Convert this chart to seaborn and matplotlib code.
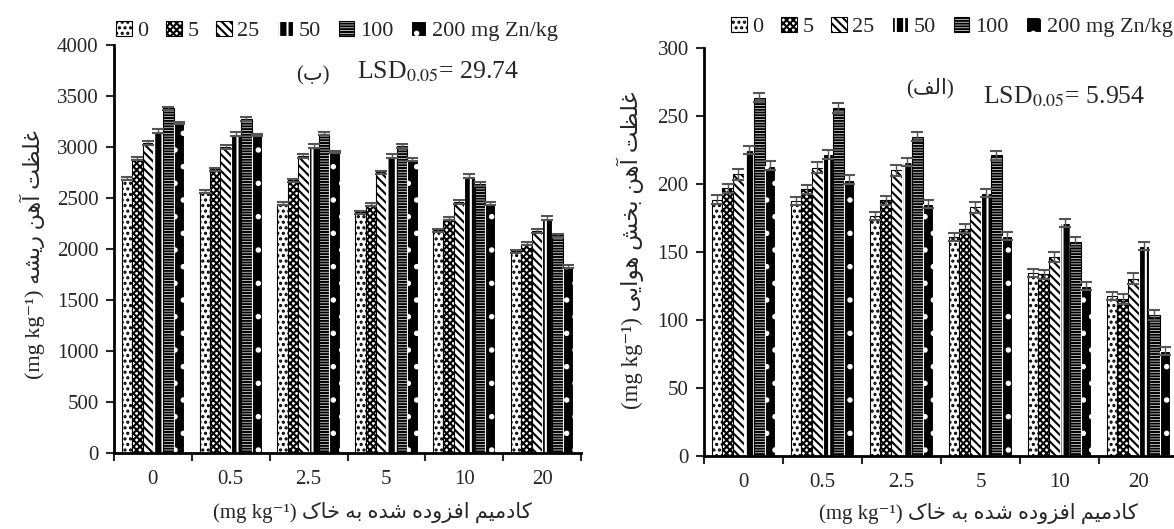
import matplotlib
matplotlib.use("Agg")
import numpy as np
import pandas as pd
import seaborn as sns
import matplotlib.pyplot as plt
import matplotlib.patches as mpatches

# ---------------- data ----------------
cd_levels = ["0", "0.5", "2.5", "5", "10", "20"]
zn_levels = ["0", "5", "25", "50", "100", "200"]
zn_legend = ["0", "5", "25", "50", "100", "200 mg Zn/kg"]

root_zn0 = [2690, 2560, 2445, 2358, 2183, 1980]
root_zn5 = [2885, 2782, 2675, 2432, 2298, 2052]
root_zn25 = [3040, 3000, 2910, 2750, 2462, 2176]
root_zn50 = [3158, 3125, 3010, 2910, 2720, 2308]
root_zn100 = [3378, 3273, 3132, 3010, 2634, 2133]
root_zn200 = [3237, 3115, 2952, 2876, 2445, 1828]
root_err = [15, 15, 18, 20, 18, 12]

shoot_zn0 = [188.6, 187.3, 176.3, 160.8, 134.5, 117.6]
shoot_zn5 = [196.7, 196.0, 188.0, 167.2, 133.5, 115.6]
shoot_zn25 = [207.0, 212.0, 210.0, 183.0, 146.3, 130.3]
shoot_zn50 = [225.0, 221.7, 216.3, 193.5, 171.4, 154.7]
shoot_zn100 = [263.5, 255.7, 234.8, 221.0, 157.4, 103.8]
shoot_zn200 = [213.6, 203.3, 185.6, 161.5, 124.7, 77.5]
shoot_err = [3.0, 3.5, 4.0, 3.0, 3.5, 3.0]

root_series = [root_zn0, root_zn5, root_zn25, root_zn50, root_zn100, root_zn200]
shoot_series = [shoot_zn0, shoot_zn5, shoot_zn25, shoot_zn50, shoot_zn100, shoot_zn200]

ylabel_root = "غلظت آهن ریشه"
ylabel_shoot = "غلظت آهن بخش هوایی"
xlabel_fa = "کادمیم افزوده شده به خاک"
tag_root = "ب"
tag_shoot = "الف"
unit = "(mg kg⁻¹)"

# ------------- minimal Persian shaping (for display only) -------------
FORMS = {
    "\u0627": ("\uFE8D", "\uFE8E"),
    "\u0622": ("\uFE81", "\uFE82"),
    "\u0628": ("\uFE8F", "\uFE90", "\uFE91", "\uFE92"),
    "\u062A": ("\uFE95", "\uFE96", "\uFE97", "\uFE98"),
    "\u062E": ("\uFEA5", "\uFEA6", "\uFEA7", "\uFEA8"),
    "\u062F": ("\uFEA9", "\uFEAA"),
    "\u0631": ("\uFEAD", "\uFEAE"),
    "\u0632": ("\uFEAF", "\uFEB0"),
    "\u0634": ("\uFEB5", "\uFEB6", "\uFEB7", "\uFEB8"),
    "\u0638": ("\uFEC5", "\uFEC6", "\uFEC7", "\uFEC8"),
    "\u063A": ("\uFECD", "\uFECE", "\uFECF", "\uFED0"),
    "\u0641": ("\uFED1", "\uFED2", "\uFED3", "\uFED4"),
    "\u0644": ("\uFEDD", "\uFEDE", "\uFEDF", "\uFEE0"),
    "\u0645": ("\uFEE1", "\uFEE2", "\uFEE3", "\uFEE4"),
    "\u0646": ("\uFEE5", "\uFEE6", "\uFEE7", "\uFEE8"),
    "\u0647": ("\uFEE9", "\uFEEA", "\uFEEB", "\uFEEC"),
    "\u0648": ("\uFEED", "\uFEEE"),
    "\u06CC": ("\uFBFC", "\uFBFD", "\uFBFE", "\uFBFF"),
    "\u06A9": ("\uFB8E", "\uFB8F", "\uFB90", "\uFB91"),
}


def rtl(s):
    out = []
    n = len(s)
    for i, c in enumerate(s):
        if c not in FORMS:
            out.append(c)
            continue
        f = FORMS[c]
        prev = s[i - 1] if i > 0 else None
        nxt = s[i + 1] if i < n - 1 else None
        jp = prev is not None and prev in FORMS and len(FORMS[prev]) == 4
        jn = len(f) == 4 and nxt is not None and nxt in FORMS
        if jp and jn:
            out.append(f[3])
        elif jp:
            out.append(f[1])
        elif jn:
            out.append(f[2])
        else:
            out.append(f[0])
    return "".join(reversed(out))


# ---------------- style ----------------
sns.set_style("ticks")
plt.rcParams["font.family"] = ["Liberation Serif", "DejaVu Sans"]
plt.rcParams["mathtext.fontset"] = "stix"
plt.rcParams["hatch.linewidth"] = 1.5
FAM = ["Liberation Serif", "DejaVu Sans"]

# (hatch, facecolor, edgecolor) per Zn level
styles = [
    ("...", "white", "black"),
    ("xxxxx", "white", "black"),
    ("\\\\\\\\", "white", "black"),
    ("||", "black", "white"),
    ("------", "white", "black"),
    (".", "black", "white"),
]

fig = plt.figure(figsize=(11.74, 5.29), dpi=100)
W, H = 1174.0, 529.0


def make_axes(x0, x1, ytop, ybot):
    return fig.add_axes([x0 / W, 1 - ybot / H, (x1 - x0) / W, (ybot - ytop) / H])


ax_l = make_axes(114, 581, 45, 453)
ax_r = make_axes(704, 1178, 48, 456)


def style_patch(p, k):
    h, fc, ec = styles[k]
    p.set_facecolor(fc)
    p.set_edgecolor(ec)
    p.set_hatch(h)
    p.set_linewidth(0.8)


def draw(ax, series, errs, ymax, ystep):
    rows = []
    for zn, vals in zip(zn_levels, series):
        for cd, v in zip(cd_levels, vals):
            rows.append({"cd": cd, "zn": zn, "fe": v})
    df = pd.DataFrame(rows)
    sns.barplot(data=df, x="cd", y="fe", hue="zn", order=cd_levels,
                hue_order=zn_levels, palette=["white"] * 6, saturation=1,
                edgecolor="black", linewidth=0.8, width=0.8,
                errorbar=None, legend=False, ax=ax)
    bar_conts = list(ax.containers)
    for k, cont in enumerate(bar_conts):
        xs, hs = [], []
        for p in cont.patches:
            style_patch(p, k)
            xs.append(p.get_x() + p.get_width() / 2)
            hs.append(p.get_height())
        ax.errorbar(xs, hs, yerr=errs[k], fmt="none", ecolor="#555555",
                    elinewidth=1, capsize=4, capthick=1.5, zorder=5)
    ax.set_xlim(-0.5, 5.5)
    ax.set_ylim(0, ymax)
    ax.set_yticks(np.arange(0, ymax + 1, ystep))
    ax.set_xticks(np.arange(-0.5, 6, 1))
    ax.set_xticklabels([])
    ax.set_xticks(np.arange(6), minor=True)
    ax.set_xticklabels(cd_levels, minor=True, fontsize=15, family=FAM)
    ax.tick_params(axis="x", which="major", length=6, width=1.5, direction="out")
    ax.tick_params(axis="x", which="minor", length=0, pad=12)
    ax.tick_params(axis="y", length=6, width=1.5, direction="out", pad=5,
                   labelsize=15)
    for t in ax.get_yticklabels():
        t.set_family(FAM)
    for s in ["top", "right"]:
        ax.spines[s].set_visible(False)
    for s in ["left", "bottom"]:
        ax.spines[s].set_linewidth(2)
        ax.spines[s].set_color("black")
    ax.set_xlabel("")
    ax.set_ylabel("")


draw(ax_l, root_series, root_err, 4000, 500)
draw(ax_r, shoot_series, shoot_err, 300, 50)

# legends
handles = []
for k in range(6):
    hp = mpatches.Patch()
    style_patch(hp, k)
    hp.set_edgecolor("black") if styles[k][2] == "black" else None
    handles.append(hp)
for cx, cy in [(337, 31), (952, 27)]:
    fig.legend(handles, zn_legend, loc="center", bbox_to_anchor=(cx / W, 1 - cy / H),
               ncol=6, frameon=False, handlelength=0.7, handleheight=0.7,
               handletextpad=0.25, columnspacing=0.8, borderpad=0,
               prop={"family": FAM, "size": 16})

# panel tags and LSD
fig.text(313 / W, 1 - 76 / H, "(" + rtl(tag_root) + ")", ha="center", va="center",
         fontsize=15, family=FAM)
fig.text(357 / W, 1 - 72 / H, r"LSD$_{0.05}$= 29.74", ha="left", va="center",
         fontsize=18.5, family=FAM)
fig.text(930 / W, 1 - 88 / H, "(" + rtl(tag_shoot) + ")", ha="center", va="center",
         fontsize=15, family=FAM)
fig.text(983 / W, 1 - 97 / H, r"LSD$_{0.05}$= 5.954", ha="left", va="center",
         fontsize=18.5, family=FAM)

# axis labels
fig.text(32 / W, 1 - 255 / H, unit + " " + rtl(ylabel_root), rotation=90,
         ha="center", va="center", fontsize=16, family=FAM)
fig.text(630 / W, 1 - 250 / H, unit + " " + rtl(ylabel_shoot), rotation=90,
         ha="center", va="center", fontsize=16.5, family=FAM)
fig.text(532 / W, 1 - 512 / H, unit + " " + rtl(xlabel_fa), ha="right",
         va="center", fontsize=15, family=FAM)
fig.text(1138 / W, 1 - 513 / H, unit + " " + rtl(xlabel_fa), ha="right",
         va="center", fontsize=15, family=FAM)

fig.savefig("out.png", dpi=100)
